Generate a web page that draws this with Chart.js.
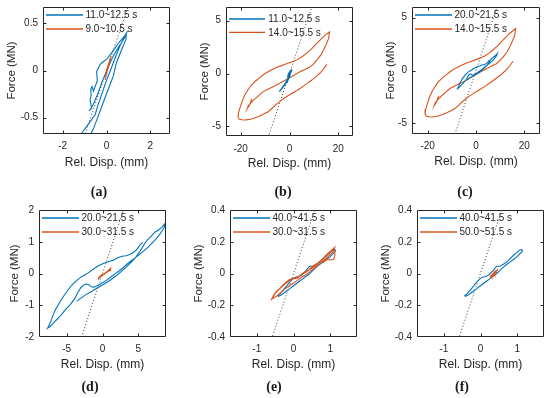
<!DOCTYPE html>
<html><head><meta charset="utf-8">
<script src="https://cdn.jsdelivr.net/npm/chart.js@4.4.1/dist/chart.umd.min.js"></script>
<style>
html,body{margin:0;padding:0;background:#fff;}
#wrap{position:relative;width:550px;height:398px;overflow:hidden;background:#fff;}
#wrap canvas{position:absolute;left:0;top:0;}
.cap{position:absolute;font:bold 14px "Liberation Serif","Times New Roman",serif;color:#1a1a1a;transform:translate(-50%,-50%);white-space:nowrap;}
</style></head><body>
<div id="wrap">
<canvas id="ca" width="550" height="398"></canvas>
<canvas id="cb" width="550" height="398"></canvas>
<canvas id="cc" width="550" height="398"></canvas>
<canvas id="cd" width="550" height="398"></canvas>
<canvas id="ce" width="550" height="398"></canvas>
<canvas id="cf" width="550" height="398"></canvas>
<div class="cap" style="left:99px;top:192px">(a)</div>
<div class="cap" style="left:283px;top:192px">(b)</div>
<div class="cap" style="left:465px;top:192px">(c)</div>
<div class="cap" style="left:90px;top:387px">(d)</div>
<div class="cap" style="left:274px;top:387px">(e)</div>
<div class="cap" style="left:462px;top:387px">(f)</div>
</div>
<script>
// ---- legend labels (time windows) ----
const lab09 = '9.0~10.5 s';
const lab11 = '11.0~12.5 s';
const lab14 = '14.0~15.5 s';
const lab20 = '20.0~21.5 s';
const lab30 = '30.0~31.5 s';
const lab40 = '40.0~41.5 s';
const lab50 = '50.0~51.5 s';

// ---- series: [Rel. Disp. (mm), Force (MN)] ----
const s09 = [[-0.06,-0.10],[-0.02,-0.05],[-0.04,-0.07],[0.01,-0.01],[0.0,-0.03],[0.05,0.03],[0.03,0.01],[0.08,0.06],[0.07,0.04],[0.12,0.09],[0.10,0.07],[0.16,0.12],[0.14,0.10],[0.20,0.15],[0.18,0.12],[0.15,0.09],[0.17,0.11],[0.12,0.06],[0.13,0.08],[0.08,0.03],[0.09,0.05],[0.04,0.0],[0.05,0.02],[0.0,-0.04],[0.01,-0.02],[-0.04,-0.08]];

const s11 = [[-4.2,-1.7],[-3.0,-1.32],[-2.0,-0.98],[-1.16,-0.675],[-0.83,-0.57],[-0.52,-0.47],[-0.38,-0.36],[-0.30,-0.31],[-0.07,-0.15],[0.16,-0.01],[0.39,0.13],[0.61,0.26],[0.80,0.35],[0.96,0.42],[0.84,0.37],[0.54,0.29],[0.24,0.19],[0.01,0.12],[-0.22,0.08],[-0.30,0.06],[-0.45,-0.01],[-0.42,-0.11],[-0.60,-0.22],[-0.66,-0.17],[-0.72,-0.20],[-0.70,-0.27],[-0.75,-0.31],[-0.68,-0.40],[-0.79,-0.43],[-0.62,-0.37],[-0.40,-0.25],[-0.20,-0.12],[0.05,0.02],[0.30,0.15],[0.55,0.25],[0.78,0.33],[0.90,0.38],[0.89,0.33],[0.69,0.22],[0.45,0.08],[0.31,-0.06],[0.08,-0.20],[-0.15,-0.34],[-0.37,-0.48],[-0.60,-0.62],[-0.72,-0.675],[-1.5,-0.92],[-2.6,-1.27],[-3.8,-1.62]];

const s14 = [[-15.5,-2.4],[-16.2,-2.9],[-17.3,-3.3],[-16.9,-3.05],[-15.0,-2.55],[-12.5,-2.05],[-10.8,-1.7],[-8.0,-1.38],[-5.3,-1.08],[-2.5,-0.72],[0.2,-0.36],[2.3,-0.08],[4.3,0.17],[6.5,0.42],[8.4,0.64],[10.0,0.95],[11.2,1.27],[12.8,1.75],[13.9,2.2],[15.0,2.75],[16.0,3.3],[16.4,3.95],
[15.5,3.8],[13.9,3.5],[12.2,3.1],[10.5,2.7],[8.8,2.3],[7.1,1.96],[5.3,1.62],[3.6,1.37],[2.0,1.2],[0.2,1.05],[-1.8,0.88],[-3.9,0.71],[-6.0,0.5],[-8.0,0.27],[-10.2,-0.02],[-12.1,-0.36],[-14.0,-0.72],[-15.6,-1.08],[-17.0,-1.52],[-18.3,-2.03],[-19.3,-2.55],[-20.1,-3.1],[-20.8,-3.65],[-21.1,-4.07],[-20.7,-4.3],
[-19.5,-4.37],[-18.3,-4.39],[-17.0,-4.35],[-15.6,-4.3],[-13.8,-4.15],[-12.1,-4.0],[-10.4,-3.8],[-8.7,-3.6],[-7.0,-3.25],[-5.3,-2.88],[-3.6,-2.55],[-1.85,-2.28],[0.2,-1.98],[2.3,-1.7],[4.0,-1.45],[5.7,-1.18],[7.4,-0.9],[9.1,-0.61],[10.9,-0.28],[12.6,0.08],[14.0,0.45],[15.3,0.87]];

const s20 = [[-3.6,-0.87],[-2.9,-0.76],[-2.2,-0.65],[-1.4,-0.55],[-0.7,-0.45],[0.0,-0.36],[0.8,-0.25],[1.5,-0.14],[2.2,-0.02],[3.3,0.20],[4.0,0.36],[4.6,0.5],[5.1,0.66],[5.5,0.8],[5.9,0.95],[6.3,1.07],[6.8,1.18],[7.3,1.3],[7.8,1.37],[8.3,1.46],[8.8,1.6],
[8.6,1.45],[8.1,1.27],[7.5,1.1],[6.9,0.96],[6.4,0.84],[5.8,0.72],[5.2,0.61],[4.6,0.5],[4.0,0.4],[3.4,0.29],[2.9,0.19],[2.3,0.08],[1.7,-0.02],[1.1,-0.12],[0.6,-0.21],[0.0,-0.29],[-0.6,-0.37],[-1.2,-0.43],[-1.6,-0.42],[-1.9,-0.35],[-2.2,-0.33],[-2.6,-0.36],[-3.0,-0.44],[-3.4,-0.58],[-3.9,-0.8],[-4.5,-0.98],[-5.0,-1.1],[-5.5,-1.23],[-6.0,-1.37],[-6.5,-1.48],[-6.9,-1.58],[-7.3,-1.66],[-7.65,-1.72],
[-7.5,-1.65],[-7.2,-1.5],[-6.9,-1.32],[-6.6,-1.16],[-6.1,-0.96],[-5.5,-0.74],[-4.9,-0.55],[-4.3,-0.37],[-3.7,-0.24],[-3.1,-0.13],[-2.5,-0.05],[-2.0,0.02],[-1.4,0.12],[-0.8,0.21],[-0.2,0.28],[0.3,0.33],[0.9,0.38],[1.5,0.42],[2.0,0.48],[2.4,0.52],[2.9,0.55],[3.3,0.56],[3.8,0.6],[4.3,0.66],[4.7,0.74],[5.0,0.82],[5.3,0.92],[5.6,0.98]];

const s30 = [[-0.61,-0.168],[-0.55,-0.14],[-0.48,-0.116],[-0.38,-0.095],[-0.29,-0.074],[-0.2,-0.055],[-0.11,-0.038],[0.0,-0.03],[0.12,-0.021],[0.22,-0.005],[0.35,0.01],[0.44,0.025],[0.53,0.038],[0.64,0.06],[0.75,0.084],[0.85,0.105],[0.94,0.126],[1.03,0.145],[1.12,0.164],
[1.07,0.136],[0.98,0.115],[0.89,0.095],[0.78,0.075],[0.66,0.052],[0.55,0.03],[0.44,0.01],[0.32,-0.01],[0.21,-0.025],[0.1,-0.045],[-0.02,-0.063],[-0.14,-0.082],[-0.25,-0.10],[-0.34,-0.12],[-0.43,-0.137],[-0.52,-0.152],[-0.58,-0.16],
[-0.5,-0.125],[-0.35,-0.09],[-0.2,-0.06],[-0.05,-0.035],[0.1,-0.03],[0.25,0.0],[0.4,0.02],[0.55,0.05],[0.7,0.07],[0.85,0.1],[1.0,0.135],[1.1,0.155],[1.13,0.12],[1.1,0.09],[1.02,0.085],[0.92,0.09],[0.8,0.068]];

const s40 = [[-0.44,-0.143],[-0.36,-0.125],[-0.28,-0.105],[-0.19,-0.08],[-0.1,-0.053],[0.03,-0.025],[0.12,-0.02],[0.22,-0.011],[0.3,0.008],[0.35,0.021],[0.44,0.046],[0.53,0.046],[0.62,0.058],[0.72,0.073],[0.81,0.094],[0.9,0.115],[0.98,0.13],[1.06,0.147],[1.13,0.151],[1.14,0.14],[1.13,0.137],[1.06,0.12],[0.99,0.105],[0.9,0.088],[0.81,0.073],[0.72,0.058],[0.63,0.042],[0.53,0.02],[0.44,0.0],[0.35,-0.016],[0.26,-0.032],[0.17,-0.047],[0.08,-0.063],[-0.01,-0.079],[-0.1,-0.095],[-0.19,-0.11],[-0.28,-0.126],[-0.36,-0.138],[-0.42,-0.145]];

const s50 = [[0.25,-0.028],[0.29,-0.02],[0.28,-0.012],[0.33,-0.01],[0.32,-0.002],[0.37,0.0],[0.36,0.008],[0.41,0.01],[0.40,0.016],[0.45,0.02],[0.46,0.024],[0.42,0.012],[0.43,0.006],[0.38,0.002],[0.39,-0.006],[0.34,-0.01],[0.35,-0.016],[0.30,-0.02],[0.31,-0.025],[0.26,-0.03]];

// ---- dotted reference (stiffness) lines, two end points each ----
const dotA = [[-1.2,-0.83],[1.2,0.83]];
const dotBC = [[-10,-6.9],[10,6.9]];
const dotD = [[-3.2,-2.2],[3.2,2.2]];
const dotEF = [[-0.65,-0.45],[0.65,0.45]];

// ---- tick values ----
const xTicksA = [-2,0,2];
const yTicksA = [-0.5,0,0.5];
const xTicksBC = [-20,0,20];
const yTicksBC = [-5,0,5];
const xTicksD = [-5,0,5];
const yTicksD = [-2,-1,0,1,2];
const xTicksEF = [-1,0,1];
const yTicksEF = [-0.4,-0.2,0,0.2,0.4];

const xTitle = 'Rel. Disp. (mm)';
const yTitle = 'Force (MN)';

const BLUE = '#0072BD', ORANGE = '#D95319', AXC = '#262626';
const FONT = '"Liberation Sans", Arial, sans-serif';

const framePlugin = {
  id: 'frame',
  afterDatasetsDraw(chart) {
    const c = chart.options.plugins.frame;
    const {ctx, chartArea: a, scales} = chart;
    ctx.save();
    ctx.strokeStyle = AXC; ctx.lineWidth = 1;
    const L = Math.round(a.left) + 0.5, R = Math.round(a.right) - 0.5;
    const T = Math.round(a.top) + 0.5, B = Math.round(a.bottom) - 0.5;
    ctx.beginPath();
    ctx.rect(L, T, R - L, B - T);
    const tl = 3;
    c.xt.forEach(v => {
      const p = Math.round(scales.x.getPixelForValue(v)) + 0.5;
      if (p <= L + 1 || p >= R - 1) return;
      ctx.moveTo(p, B); ctx.lineTo(p, B - tl);
      ctx.moveTo(p, T); ctx.lineTo(p, T + tl);
    });
    c.yt.forEach(v => {
      const p = Math.round(scales.y.getPixelForValue(v)) + 0.5;
      if (p <= T + 1 || p >= B - 1) return;
      ctx.moveTo(L, p); ctx.lineTo(L + tl, p);
      ctx.moveTo(R, p); ctx.lineTo(R - tl, p);
    });
    ctx.stroke();
    // legend inside the axes, top-left
    const lg = c.legend;
    ctx.font = '10px ' + FONT;
    ctx.textBaseline = 'middle';
    ctx.textAlign = 'left';
    c.entries.forEach((e, i) => {
      const y = a.top + lg.rows[i];
      ctx.strokeStyle = e.color; ctx.lineWidth = 1.3;
      ctx.beginPath();
      ctx.moveTo(a.left + lg.x0, y); ctx.lineTo(a.left + lg.x1, y);
      ctx.stroke();
      ctx.fillStyle = AXC;
      ctx.fillText(e.label, a.left + lg.tx, y + 0.5);
    });
    ctx.restore();
  }
};

function makePanel(p) {
  const lhX = 14.4, halfX = lhX / 2;   // x title 12px
  const lhY = 13.2, halfY = lhY / 2;   // y title 11px
  const [x0, y0, x1, y1] = p.box;
  const padL = p.yTitleX - halfY;
  const datasets = p.series.map(s => ({
    label: s.label,
    data: s.data.map(d => ({x: d[0], y: d[1]})),
    borderColor: s.color, backgroundColor: s.color,
    borderWidth: 1.1, showLine: true, pointRadius: 0, fill: false,
    order: s.order
  }));
  datasets.push({
    label: 'stiffness', data: p.dot.map(d => ({x: d[0], y: d[1]})),
    borderColor: '#3a3a3a', borderWidth: 1, borderDash: [1, 2.2],
    showLine: true, pointRadius: 0, fill: false, order: 9
  });
  return new Chart(document.getElementById(p.id), {
    type: 'scatter',
    data: {datasets},
    plugins: [framePlugin],
    options: {
      responsive: false, animation: false, devicePixelRatio: 1,
      events: [],
      layout: {padding: {left: padL, top: y0, right: 550 - x1, bottom: 398 - (p.xTitleY + halfX)}},
      plugins: {
        legend: {display: false}, tooltip: {enabled: false},
        frame: {xt: p.xt, yt: p.yt, legend: p.legend,
                entries: p.series.map(s => ({label: s.label, color: s.color}))}
      },
      scales: {
        x: {
          type: 'linear', position: 'bottom', min: p.xr[0], max: p.xr[1], bounds: 'data',
          afterBuildTicks: s => { s.ticks = p.xt.map(v => ({value: v})); },
          afterFit: s => { s.height = p.xTitleY + halfX - y1; s.paddingLeft = 0; s.paddingRight = 0; },
          grid: {display: false, drawTicks: false}, border: {display: false},
          ticks: {padding: p.xtPad, color: AXC, font: {family: FONT, size: 10}, maxRotation: 0, autoSkip: false,
                  callback: v => String(v)},
          title: {display: true, text: xTitle, color: AXC, font: {family: FONT, size: 12}, padding: 0}
        },
        y: {
          type: 'linear', position: 'left', min: p.yr[0], max: p.yr[1], bounds: 'data',
          afterBuildTicks: s => { s.ticks = p.yt.map(v => ({value: v})); },
          afterFit: s => { s.width = x0 - padL; s.paddingTop = 0; s.paddingBottom = 0; },
          grid: {display: false, drawTicks: false}, border: {display: false},
          ticks: {padding: 5, color: AXC, font: {family: FONT, size: 10}, autoSkip: false,
                  callback: v => String(v)},
          title: {display: true, text: yTitle, color: AXC, font: {family: FONT, size: 11.5}, padding: 0}
        }
      }
    }
  });
}

const stdLegend = {x0: 3, x1: 40, tx: 42.5, rows: [8, 22]};

const panels = [
  {id: 'ca', box: [43, 7, 170, 134], xr: [-2.9, 2.9], yr: [-0.675, 0.675], xt: xTicksA, yt: yTicksA,
   yTitleX: 12, xTitleY: 163, xtPad: 6.5, dot: dotA, legend: stdLegend,
   series: [{label: lab11, data: s11, color: BLUE, order: 2}, {label: lab09, data: s09, color: ORANGE, order: 1}]},
  {id: 'cb', box: [226, 7, 353, 136], xr: [-26, 26], yr: [-5.9, 6.3], xt: xTicksBC, yt: yTicksBC,
   yTitleX: 205, xTitleY: 164, xtPad: 7, dot: dotBC, legend: {x0: 3, x1: 39, tx: 42.3, rows: [12, 25.3]},
   series: [{label: lab11, data: s11, color: BLUE, order: 1}, {label: lab14, data: s14, color: ORANGE, order: 2}]},
  {id: 'cc', box: [412, 7, 540, 134], xr: [-26.5, 26.5], yr: [-6, 6], xt: xTicksBC, yt: yTicksBC,
   yTitleX: 390.5, xTitleY: 162, xtPad: 6.3, dot: dotBC, legend: stdLegend,
   series: [{label: lab20, data: s20, color: BLUE, order: 1}, {label: lab14, data: s14, color: ORANGE, order: 2}]},
  {id: 'cd', box: [39, 210, 166, 337], xr: [-8.85, 8.85], yr: [-2, 2], xt: xTicksD, yt: yTicksD,
   yTitleX: 15, xTitleY: 364.5, xtPad: 6.3, dot: dotD, legend: stdLegend,
   series: [{label: lab20, data: s20, color: BLUE, order: 2}, {label: lab30, data: s30, color: ORANGE, order: 1}]},
  {id: 'ce', box: [230, 210, 357, 337], xr: [-1.73, 1.73], yr: [-0.4, 0.4], xt: xTicksEF, yt: yTicksEF,
   yTitleX: 198.7, xTitleY: 364.5, xtPad: 6.3, dot: dotEF, legend: stdLegend,
   series: [{label: lab40, data: s40, color: BLUE, order: 2}, {label: lab30, data: s30, color: ORANGE, order: 1}]},
  {id: 'cf', box: [417, 210, 544, 337], xr: [-1.73, 1.73], yr: [-0.4, 0.4], xt: xTicksEF, yt: yTicksEF,
   yTitleX: 385.7, xTitleY: 365, xtPad: 6.3, dot: dotEF, legend: stdLegend,
   series: [{label: lab40, data: s40, color: BLUE, order: 2}, {label: lab50, data: s50, color: ORANGE, order: 1}]}
];

panels.forEach(makePanel);
</script>
</body></html>
